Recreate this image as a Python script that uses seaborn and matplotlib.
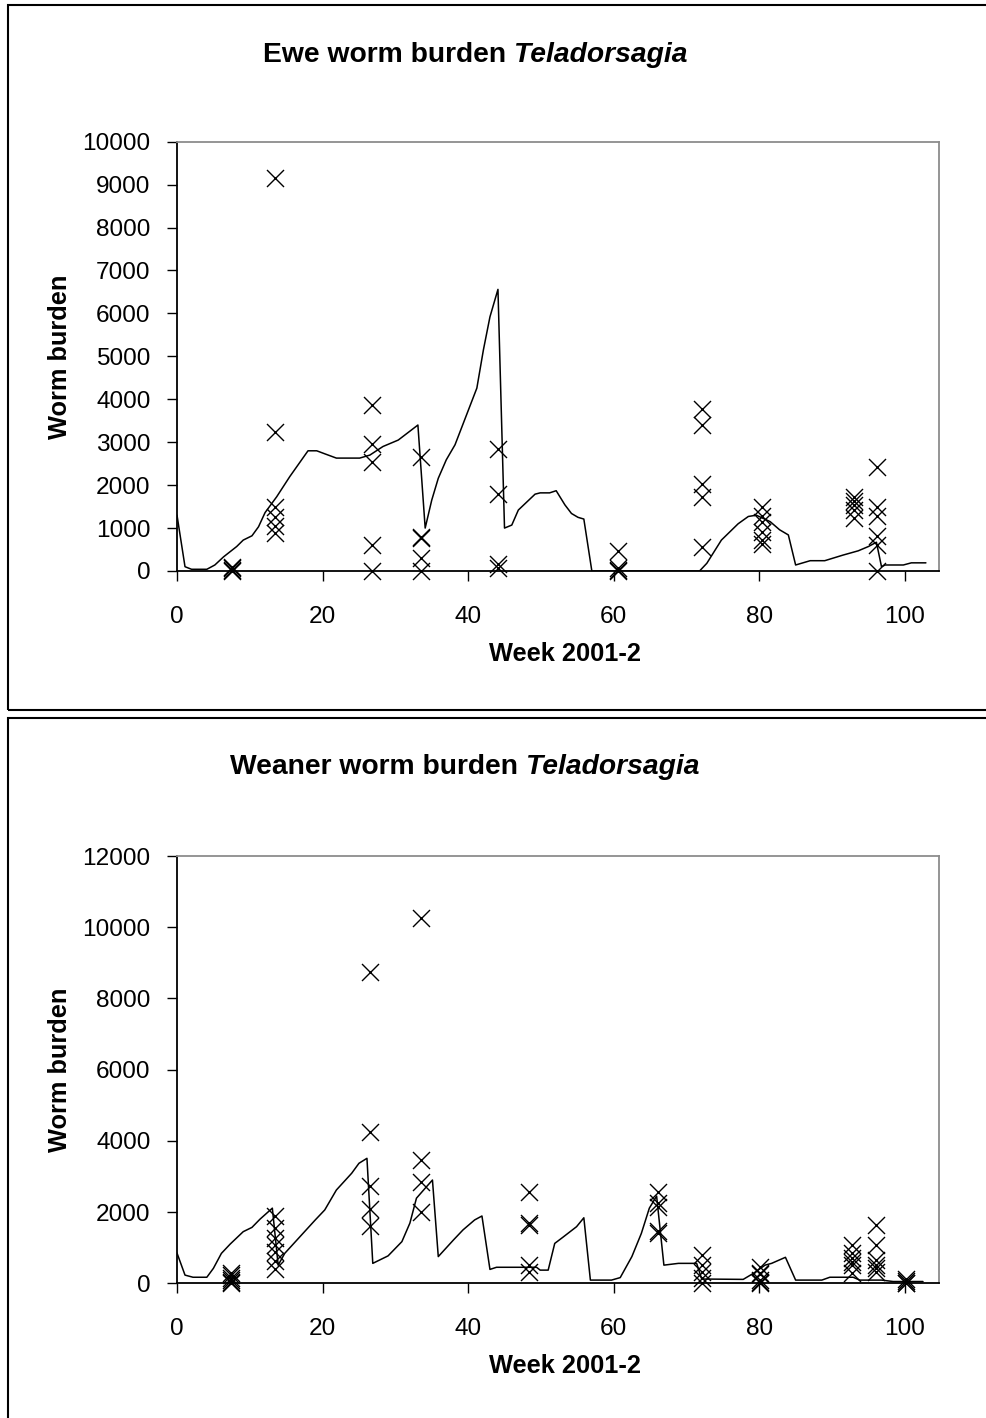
import matplotlib
matplotlib.use("Agg")
import matplotlib.pyplot as plt
import seaborn as sns
import pandas as pd
from matplotlib.patches import Rectangle

# ---------------- data ----------------
# Ewe: simulated burden (line) and post-mortem counts (crosses)
ewe_line_week = [0, 1.1, 2.0, 4.1, 5.2, 6.4, 8.2, 9.1, 10.3, 11.2, 12.1, 13.7, 15.5,
                 18.0, 19.2, 20.3, 21.9, 25.1, 26.5, 28.3, 30.4, 33.1, 34.1, 35.0,
                 35.9, 37.0, 38.2, 41.2, 42.1, 43.0, 44.1, 45.0, 46.0, 46.9, 49.2,
                 49.9, 51.2, 52.1, 53.3, 54.2, 55.1, 55.9, 57.0, 71.8, 72.8, 74.8,
                 77.1, 78.5, 79.6, 81.5, 82.8, 84.0, 85.0, 87.0, 89.0, 91.5, 93.6,
                 95.0, 96.1, 96.8, 97.3, 99.8, 100.9, 102.9]
ewe_line_burden = [1300, 100, 40, 40, 140, 330, 570, 720, 820, 1030, 1360, 1730, 2200,
                   2800, 2800, 2730, 2630, 2630, 2700, 2900, 3050, 3400, 1000, 1650,
                   2160, 2590, 2940, 4260, 5150, 5920, 6560, 1000, 1070, 1420, 1790,
                   1820, 1820, 1870, 1540, 1340, 1250, 1210, 0, 0, 180, 720,
                   1100, 1270, 1300, 1150, 960, 840, 140, 240, 240, 370, 470,
                   570, 670, 100, 140, 140, 190, 190]

ewe_sample_weeks = [7.6, 13.5, 26.8, 33.5, 44.1, 60.6, 72.2, 80.4, 93.0, 96.2]
ewe_sample_counts = [
    [100, 60, 30, 0],
    [9150, 3230, 1500, 1250, 1050, 880],
    [3870, 2950, 2530, 610, 10],
    [2650, 800, 760, 300, 10],
    [2850, 1800, 170, 60],
    [470, 70, 30, 0],
    [3780, 3400, 2020, 1730, 570],
    [1500, 1280, 1150, 900, 720, 640],
    [1720, 1620, 1540, 1420, 1230],
    [2430, 1500, 1270, 820, 600, 10],
]

# Weaner: simulated burden (line) and post-mortem counts (crosses)
weaner_line_week = [0, 1.1, 2.2, 4.1, 5.0, 6.1, 7.3, 9.1, 10.3, 11.4, 13.1, 13.9, 14.8,
                    16.9, 19.0, 20.3, 21.9, 24.0, 25.0, 26.1, 26.9, 29.0, 30.9, 32.0,
                    32.9, 34.1, 35.1, 35.9, 38.0, 39.3, 40.9, 41.9, 43.0, 43.9, 49.4,
                    49.9, 51.0, 51.9, 53.0, 54.9, 55.9, 56.8, 59.7, 60.9, 62.5, 63.8,
                    64.9, 65.9, 66.9, 68.9, 71.4, 72.1, 77.8, 79.2, 80.8, 81.7, 83.6,
                    85.0, 88.6, 89.7, 92.9, 93.8, 96.8, 98.4, 102.5]
weaner_line_burden = [850, 230, 170, 170, 420, 840, 1100, 1450, 1570, 1800, 2110, 510, 840,
                      1310, 1780, 2060, 2620, 3090, 3370, 3510, 560, 770, 1170, 1690,
                      2390, 2670, 2900, 750, 1220, 1500, 1780, 1890, 390, 450, 450,
                      370, 370, 1120, 1290, 1590, 1840, 90, 90, 160, 750, 1400,
                      2110, 2450, 510, 560, 560, 120, 110, 280, 510, 560, 730,
                      90, 90, 170, 170, 90, 90, 50, 50]

weaner_sample_weeks = [7.4, 13.5, 26.5, 33.5, 48.3, 66.1, 72.2, 80.1, 92.7, 96.0, 100.1]
weaner_sample_counts = [
    [300, 220, 150, 80, 30, 0],
    [1890, 1540, 1260, 1080, 890, 640, 390],
    [8750, 4260, 2740, 2100, 1600],
    [10250, 3460, 2850, 2010],
    [2570, 1700, 1650, 510, 330],
    [2560, 2250, 2150, 1480, 1400],
    [800, 510, 310, 140, 20],
    [470, 300, 260, 100, 40, 0],
    [1080, 840, 700, 610, 510, 280],
    [1640, 1080, 650, 510, 420, 330],
    [110, 60, 20, 0],
]

x_ticks = [0, 20, 40, 60, 80, 100]
ewe_y_ticks = list(range(0, 10001, 1000))
weaner_y_ticks = list(range(0, 12001, 2000))

# ---------------- figure ----------------
sns.set_theme(style="ticks")
plt.rcParams['font.family'] = ['Liberation Sans', 'DejaVu Sans']
plt.rcParams['text.color'] = 'black'
plt.rcParams['axes.labelcolor'] = 'black'
plt.rcParams['xtick.color'] = 'black'
plt.rcParams['ytick.color'] = 'black'

W, H = 986, 1418
fig = plt.figure(figsize=(W / 100, H / 100), dpi=100)


def fx(px):
    return px / W


def fy(py):
    return 1 - py / H


def samples_frame(weeks, counts):
    rows = [(w, c) for w, cs in zip(weeks, counts) for c in cs]
    return pd.DataFrame(rows, columns=["week", "burden"])


def panel(ax_top, ax_bottom, frame_top, frame_bottom, title_left, title_base,
          title_main, title_italic, line_w, line_v, samp_w, samp_c, yticks):
    # outer chart-area frame
    fig.add_artist(Rectangle((fx(7.5), fy(frame_bottom)), fx(1010) - fx(7.5),
                             (frame_bottom - frame_top) / H, transform=fig.transFigure,
                             fill=False, lw=1.5, ec="black"))
    ax = fig.add_axes([fx(177), fy(ax_bottom), fx(939) - fx(177), (ax_bottom - ax_top) / H])

    line_df = pd.DataFrame({"week": line_w, "burden": line_v})
    sns.lineplot(data=line_df, x="week", y="burden", sort=False, estimator=None,
                 color="black", linewidth=1.1, ax=ax)
    pts = samples_frame(samp_w, samp_c)
    sns.scatterplot(data=pts, x="week", y="burden", marker="x", s=150, color="black",
                    linewidth=1.0, ax=ax, clip_on=False, zorder=3)

    ax.set_xlim(0, 104.7)
    ax.set_ylim(0, yticks[-1])
    ax.set_xticks(x_ticks)
    ax.set_yticks(yticks)
    ax.tick_params(axis="both", direction="out", length=7, width=1.0, color="black",
                   labelsize=17.6, labelcolor="black")
    ax.tick_params(axis="y", pad=12)
    ax.tick_params(axis="x", pad=18)
    for side in ("top", "right"):
        ax.spines[side].set_color("#8c8c8c")
        ax.spines[side].set_linewidth(1.3)
    for side in ("left", "bottom"):
        ax.spines[side].set_color("black")
        ax.spines[side].set_linewidth(1.3)

    ax.set_xlabel("Week 2001-2", fontsize=18.3, fontweight="bold", va="center",
                  color="black")
    ax.set_ylabel("Worm burden", fontsize=18.3, fontweight="bold", va="center",
                  color="black")
    ax.xaxis.set_label_coords(0.509, -83 / (ax_bottom - ax_top))
    ax.yaxis.set_label_coords((60 - 177) / (939 - 177), 0.5)

    t1 = fig.text(fx(title_left), fy(title_base), title_main, fontsize=20.3,
                  fontweight="bold", va="baseline", ha="left", color="black")
    renderer = fig.canvas.get_renderer()
    bb = t1.get_window_extent(renderer)
    fig.text(fx(bb.x1 + 8), fy(title_base), title_italic, fontsize=20.3,
             fontweight="bold", style="italic", va="baseline", ha="left", color="black")
    return ax


panel(141.7, 571, 5, 710, 263, 62, "Ewe worm burden", "Teladorsagia",
      ewe_line_week, ewe_line_burden, ewe_sample_weeks, ewe_sample_counts, ewe_y_ticks)
panel(856, 1283.3, 718, 1430, 230, 774, "Weaner worm burden", "Teladorsagia",
      weaner_line_week, weaner_line_burden, weaner_sample_weeks, weaner_sample_counts,
      weaner_y_ticks)

fig.savefig("out.png", dpi=100)
